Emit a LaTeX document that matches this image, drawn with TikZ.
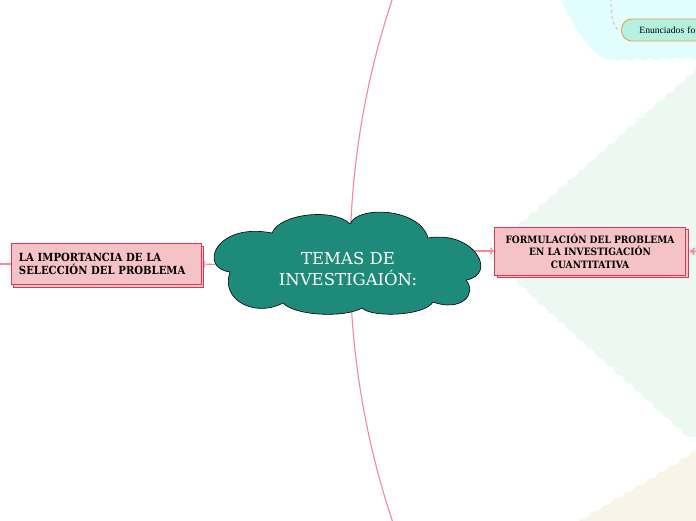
\documentclass[tikz,border=0pt]{standalone}
\usepackage{fontspec}
\setmainfont{DejaVu Serif}
\newfontfamily\boxfont{DejaVu Serif Condensed}
\newfontfamily\smallfont{Liberation Serif}
\usetikzlibrary{shadows,arrows.meta,decorations.pathmorphing}
\definecolor{teal1}{HTML}{1E8A79}
\definecolor{boxfill}{HTML}{F5C2C5}
\definecolor{boxline}{HTML}{D63B5A}
\definecolor{connpink}{HTML}{F3899A}
\definecolor{cyanbg}{HTML}{E2FDFD}
\definecolor{greenbg}{HTML}{EEF8F3}
\definecolor{beigebg}{HTML}{F9F4E8}
\definecolor{mintfill}{HTML}{B5F0E0}
\definecolor{orangeline}{HTML}{F0A048}
\definecolor{dashpink}{HTML}{F4B8C4}
\pgfdeclarelayer{bg}
\pgfsetlayers{bg,main}
\tikzset{
  topicbox/.style={rectangle, fill=boxfill, draw=boxline, line width=0.9,
    copy shadow={shadow xshift=2.5pt, shadow yshift=-2.5pt},
    font=\boxfont\bfseries\fontsize{11.2}{12.6}\selectfont, text=black},
  conn/.style={draw=connpink, line width=1.1},
  arr/.style={conn, -{To[length=4pt,width=7pt]}},
  wavy/.style={decoration={snake, amplitude=1.3pt, segment length=13pt}},
  cloudshape/.style={fill=teal1, draw=black, line width=0.6},
}
\begin{document}
\begin{tikzpicture}[x=1pt,y=-1pt]
\useasboundingbox (0,0) rectangle (696,520);
\clip (0,0) rectangle (696,520);
% central cloud
\draw[cloudshape] (230,272)
  .. controls (198,268) and (215,222) .. (272,233)
  .. controls (280,213) and (335,208) .. (350,224)
  .. controls (358,205) and (420,208) .. (428,238)
  .. controls (475,230) and (498,275) .. (466,280)
  .. controls (478,295) and (460,312) .. (433,302)
  .. controls (425,316) and (372,318) .. (362,308)
  .. controls (345,318) and (295,316) .. (283,303)
  .. controls (255,318) and (220,300) .. cycle;
\node[text=white, align=center, font=\fontsize{16.5}{21}\selectfont] (cloud) at (348,269)
  {TEMAS DE\\INVESTIGAIÓN:};
% topic boxes
\node[topicbox, minimum width=190, minimum height=41, text width=174, align=left] (lbox) at (106,264)
  {LA IMPORTANCIA DE LA\\SELECCIÓN DEL PROBLEMA};
\node[topicbox, minimum width=191, minimum height=48, inner xsep=3, align=center,
  font=\boxfont\bfseries\fontsize{10.1}{12.4}\selectfont] (rbox) at (590,251)
  {FORMULACIÓN DEL PROBLEMA\\EN LA INVESTIGACIÓN\\CUANTITATIVA};
\node[rectangle, rounded corners=10.5, fill=mintfill, draw=orangeline, line width=0.9,
  minimum height=22, text width=100, inner xsep=18, align=left, anchor=west,
  font=\smallfont\fontsize{9.6}{12}\selectfont] (enun) at (621,30) {Enunciados fo};
\coordinate (lend) at (0,264);
\coordinate (rend) at (700,252);
\coordinate (dstart) at (611,-2);
\begin{pgfonlayer}{bg}
  % background regions
  \fill[cyanbg] (559,-2) .. controls (575,25) and (585,50) .. (607,60)
     decorate[wavy]{-- (700,58)} -- (700,-2) -- cycle;
  \fill[greenbg] (705,62) decorate[wavy]{-- (490,250) -- (700,440)} -- (710,440) -- (710,62) -- cycle;
  \fill[beigebg] (578,522) decorate[wavy]{-- (700,449)} -- (700,522) -- cycle;
  % big arc behind the cloud
  \draw[conn] plot[domain=-0.33:0.33, samples=60, smooth]
     ({1175.8-825.8*cos(\x r)}, {260+825.8*sin(\x r)});
  % connectors
  \draw[arr] (cloud.center) -- (lbox.east);
  \draw[conn] (lbox.west) -- (lend);
  \draw[arr] (cloud.center |- rbox.west) -- (rbox.west);
  \draw[conn, line width=1.6, {To[length=5pt,width=8pt]}-] ([xshift=4pt]rbox.east) -- (rend);
  \draw[draw=dashpink, line width=1.2, dashed] (dstart) .. controls (611,20) and (614,30) .. (enun.west);
\end{pgfonlayer}
\end{tikzpicture}
\end{document}
